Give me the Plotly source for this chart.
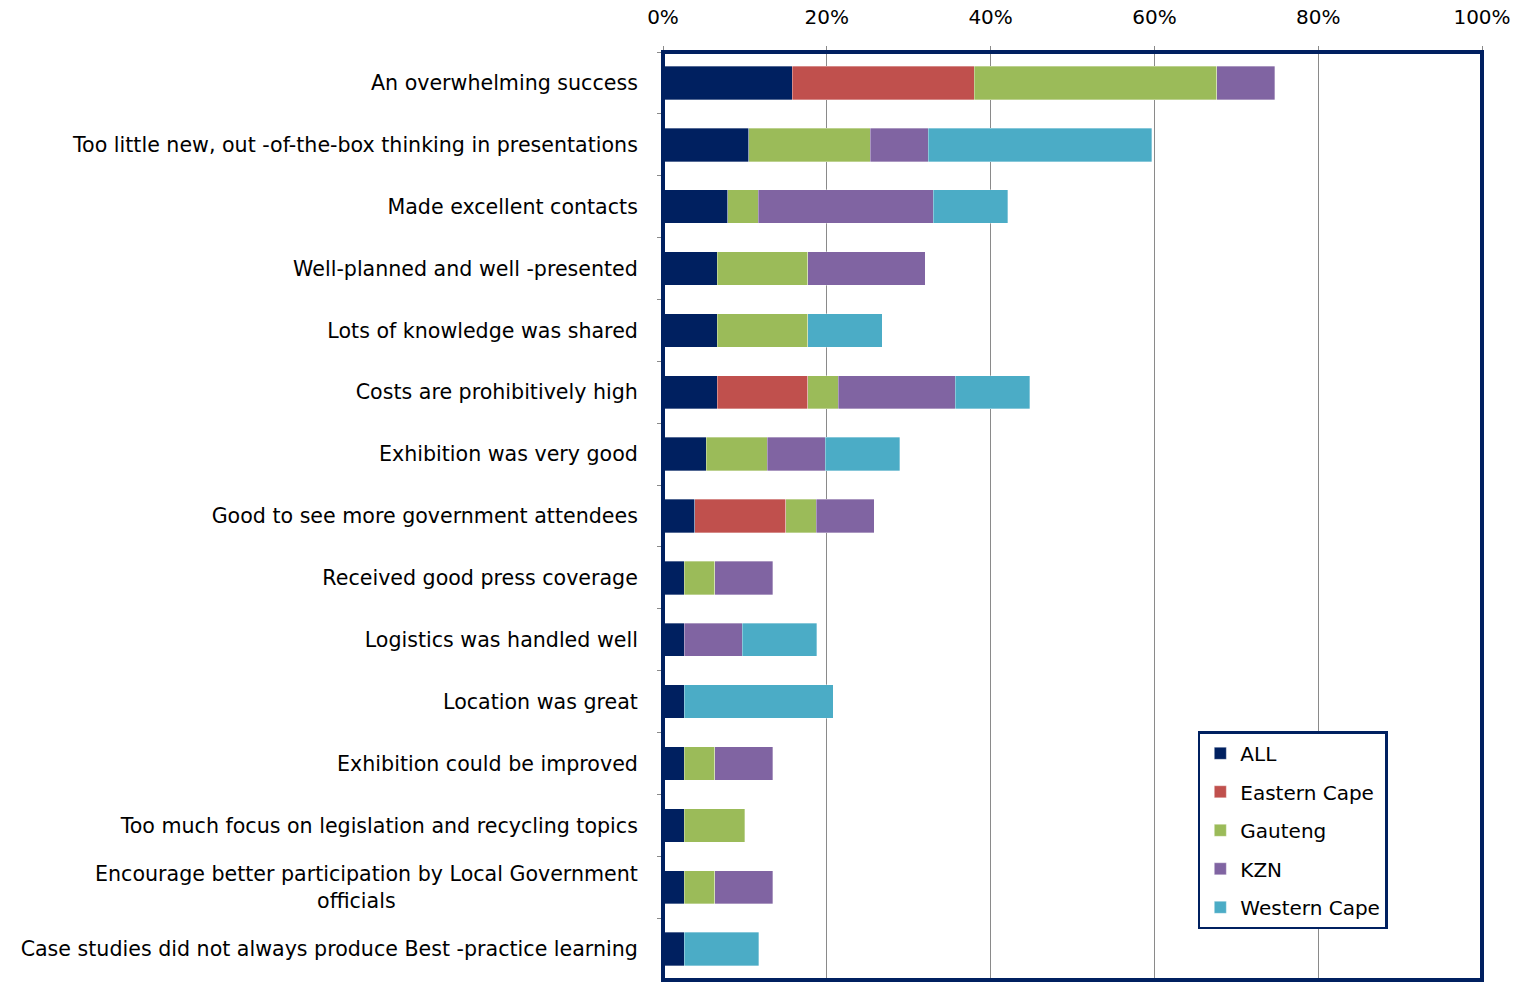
import plotly.graph_objects as go

# Survey responses (share of respondents per region), listed top to bottom
categories = [
    "An overwhelming success",
    "Too little new, out -of-the-box thinking in presentations",
    "Made excellent contacts",
    "Well-planned and well -presented",
    "Lots of knowledge was shared",
    "Costs are prohibitively high",
    "Exhibition was very good",
    "Good to see more government attendees",
    "Received good press coverage",
    "Logistics was handled well",
    "Location was great",
    "Exhibition could be improved",
    "Too much focus on legislation and recycling topics",
    "Encourage better participation by Local Government<br>officials" + "\u00a0" * 37,
    "Case studies did not always produce Best -practice learning",
]

all_vals      = [15.8, 10.5, 7.9, 6.6, 6.6, 6.6, 5.3, 3.9, 2.6, 2.6, 2.6, 2.6, 2.6, 2.6, 2.6]
eastern_cape  = [22.2, None, None, None, None, 11.1, None, 11.1, None, None, None, None, None, None, None]
gauteng       = [29.6, 14.8, 3.7, 11.1, 11.1, 3.7, 7.4, 3.7, 3.7, None, None, 3.7, 7.4, 3.7, None]
kzn           = [7.1, 7.1, 21.4, 14.3, None, 14.3, 7.1, 7.1, 7.1, 7.1, None, 7.1, None, 7.1, None]
western_cape  = [None, 27.3, 9.1, None, 9.1, 9.1, 9.1, None, None, 9.1, 18.2, None, None, None, 9.1]

x_ticks = [0, 20, 40, 60, 80, 100]
x_tick_labels = ["0%", "20%", "40%", "60%", "80%", "100%"]

series = [
    ("ALL", all_vals, "#002060"),
    ("Eastern Cape", eastern_cape, "#C0504D"),
    ("Gauteng", gauteng, "#9BBB59"),
    ("KZN", kzn, "#8064A2"),
    ("Western Cape", western_cape, "#4BACC6"),
]

NAVY = "#002060"
FONT = "DejaVu Sans"

fig = go.Figure()
for name, vals, color in series:
    fig.add_trace(go.Bar(
        y=categories,
        x=vals,
        name=name,
        orientation="h",
        legendgroup=name,
        marker=dict(color=color, line=dict(color="rgba(255,255,255,0.55)", width=0.6)),
    ))

fig.update_layout(
    width=1525,
    height=982,
    barmode="stack",
    bargap=0.46,
    plot_bgcolor="white",
    paper_bgcolor="white",
    margin=dict(l=663, r=43, t=52, b=2),
    font=dict(family=FONT, size=20, color="#000000"),
    showlegend=True,
    legend=dict(
        x=0.653,
        y=0.268,
        xanchor="left",
        yanchor="top",
        bgcolor="white",
        bordercolor=NAVY,
        borderwidth=2.5,
        font=dict(family=FONT, size=20, color="#000000"),
        tracegroupgap=9.5,
        traceorder="grouped",
    ),
    xaxis=dict(
        side="top",
        range=[0, 100],
        tickvals=x_ticks,
        ticktext=x_tick_labels,
        showgrid=True,
        gridcolor="#8a8a8a",
        gridwidth=1.3,
        ticks="outside",
        ticklen=5,
        tickcolor="#8a8a8a",
        ticklabelstandoff=14,
        zeroline=False,
        showline=False,
        tickfont=dict(family=FONT, size=20, color="#000000"),
    ),
    yaxis=dict(
        categoryorder="array",
        categoryarray=categories,
        autorange="reversed",
        tickson="boundaries",
        ticks="outside",
        ticklen=5,
        tickcolor="#8a8a8a",
        showline=True,
        linecolor="#8a8a8a",
        linewidth=1,
        ticklabelstandoff=20,
        showgrid=False,
        tickfont=dict(family=FONT, size=20.6, color="#000000"),
    ),
)

# Plot-area frame
fig.add_shape(
    type="rect", xref="paper", yref="paper",
    x0=0, x1=1, y0=0, y1=1,
    line=dict(color=NAVY, width=4),
    layer="above",
)

fig.write_html("out.html")
